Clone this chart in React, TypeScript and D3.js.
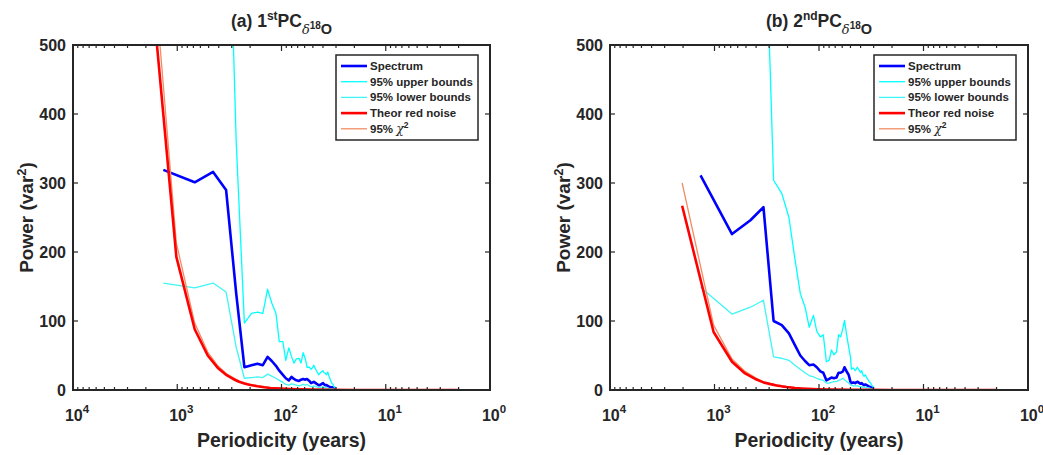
import React from 'react';
import * as d3 from 'd3';

// periods (years) of the spectral estimates, k = 1..45
const specPeriods = [1360, 680, 453, 340, 272, 227, 194, 170, 151, 136, 124, 113, 105, 97, 91, 85, 80, 76, 72, 68, 65, 62, 59, 57, 54, 52, 50, 49, 47, 45, 44, 43, 41, 40, 39, 38, 37, 36, 35, 34, 33, 32, 31.6, 30.9, 30.2];

// panel (a) 1st PC
const spectrumA = [319, 301, 316, 290, 140, 33, 36, 38, 36, 48, 42, 35, 28, 22, 17, 14, 19, 16, 14, 13, 15, 16, 15, 16, 13, 10, 11, 12, 10, 8, 7, 7, 9, 10, 8, 7, 7, 6, 5, 4, 4, 4, 3, 3, 2];
const upperA = [950, 900, 950, 870, 360, 97, 111, 113, 111, 146, 126, 111, 70, 70, 43, 61, 48, 39, 45, 46, 39, 54, 45, 33, 33, 30, 33, 36, 30, 25, 22, 24, 27, 28, 25, 24, 22, 26, 20, 15, 10, 8, 5, 4, 3];
const lowerA = [155, 148, 155, 142, 62, 17, 18, 19, 18, 23, 20, 17, 14, 11, 8, 7, 9, 8, 7, 6, 7, 8, 7, 8, 6, 5, 5, 6, 5, 4, 3, 3, 4, 5, 4, 3, 3, 3, 2, 2, 2, 2, 1, 1, 1];

// panel (b) 2nd PC
const spectrumB = [311, 226, 246, 265, 100, 94, 82, 65, 50, 42, 36, 37, 33, 27, 25, 14, 16, 18, 17, 18, 25, 25, 27, 33, 26, 22, 12, 10, 11, 10, 11, 12, 10, 9, 10, 8, 7, 8, 7, 6, 5, 4, 4, 3, 2];
const upperB = [930, 680, 740, 780, 304, 285, 250, 190, 140, 120, 91, 108, 85, 77, 80, 41, 43, 58, 51, 55, 80, 77, 90, 101, 77, 62, 48, 30, 32, 28, 30, 33, 28, 25, 28, 22, 20, 22, 18, 15, 12, 10, 8, 6, 4];
const lowerB = [149, 110, 120, 130, 48, 46, 43, 36, 30, 25, 21, 19, 17, 15, 14, 10, 10, 11, 12, 12, 14, 15, 17, 15, 12, 10, 8, 7, 6, 6, 6, 6, 5, 5, 5, 4, 4, 4, 3, 3, 3, 2, 2, 1, 1];

// theoretical red noise and 95% chi2 curve
const redPeriods = [2040, 1020, 680, 510, 408, 340, 291, 255, 227, 204, 170, 146, 128, 102, 82, 68, 51, 34, 20, 10, 4.1, 2];
const redA = [690, 193, 88, 50, 32, 22, 16, 12, 9.5, 7.7, 5.4, 4.0, 3.0, 2.0, 1.3, 0.9, 0.5, 0.25, 0.1, 0.03, 0.01, 0.005];
const chiA = [763, 213, 97, 55, 35, 24, 18, 13, 10.5, 8.5, 6, 4.4, 3.3, 2.2, 1.4, 1.0, 0.55, 0.28, 0.11, 0.03, 0.01, 0.005];
const redB = [267, 84, 41, 24, 16, 11, 8.5, 6.6, 5.3, 4.3, 3.0, 2.2, 1.7, 1.1, 0.7, 0.5, 0.3, 0.15, 0.06, 0.02, 0.005, 0.003];
const chiB = [300, 94, 45, 27, 18, 12, 9.4, 7.3, 5.8, 4.7, 3.3, 2.4, 1.9, 1.2, 0.8, 0.55, 0.33, 0.17, 0.07, 0.02, 0.006, 0.003];

const yTicks = [0, 100, 200, 300, 400, 500];
const xTickExps = [4, 3, 2, 1, 0];
const legendLabels = ['Spectrum', '95% upper bounds', '95% lower bounds', 'Theor red noise', '95% '];

const INK = '#262626';
const FONT = '"Liberation Sans", Arial, Helvetica, sans-serif';

const styles = [
  { color: '#0000ff', width: 2.6 },
  { color: '#00ffff', width: 1.3 },
  { color: '#3ff5f5', width: 1.3 },
  { color: '#ff0000', width: 2.6 },
  { color: '#f28c64', width: 1.3 },
];

type PanelProps = {
  id: string;
  left: number;
  right: number;
  top: number;
  bottom: number;
  letter: string;
  ord: string;
  ordSup: string;
  spectrum: number[];
  upper: number[];
  lower: number[];
  red: number[];
  chi: number[];
  legendX: number;
};

function Panel(p: PanelProps) {
  const x = d3.scaleLog().domain([1e4, 1]).range([p.left, p.right]);
  const y = d3.scaleLinear().domain([0, 500]).range([p.bottom, p.top]);
  const line = d3
    .line<[number, number]>()
    .x((d) => x(d[0]))
    .y((d) => y(d[1]));
  const zip = (ps: number[], vs: number[]) => ps.map((v, i) => [v, vs[i]] as [number, number]);

  const series = [
    zip(specPeriods, p.spectrum),
    zip(specPeriods, p.upper),
    zip(specPeriods, p.lower),
    zip(redPeriods, p.red),
    zip(redPeriods, p.chi),
  ];
  const drawOrder = [0, 1, 2, 4, 3];

  const minor: number[] = [];
  for (let e = 0; e < 4; e++) for (let m = 2; m <= 9; m++) minor.push(m * Math.pow(10, e));

  const cx = (p.left + p.right) / 2;
  const cy = (p.top + p.bottom) / 2;
  const lx = p.legendX;
  const lw = 142;

  return (
    <g fontFamily={FONT} fontWeight="bold" fill={INK}>
      <defs>
        <clipPath id={p.id}>
          <rect x={p.left} y={p.top} width={p.right - p.left} height={p.bottom - p.top} />
        </clipPath>
      </defs>

      <g clipPath={`url(#${p.id})`}>
        {drawOrder.map((i) => (
          <path key={i} d={line(series[i]) || ''} fill="none" stroke={styles[i].color} strokeWidth={styles[i].width} strokeLinejoin="round" />
        ))}
      </g>

      {/* ticks */}
      <g stroke={INK} strokeWidth={1.2}>
        {minor.map((v) => (
          <g key={v}>
            <line x1={x(v)} x2={x(v)} y1={p.bottom} y2={p.bottom - 3} />
            <line x1={x(v)} x2={x(v)} y1={p.top} y2={p.top + 3} />
          </g>
        ))}
        {xTickExps.map((e) => (
          <g key={e}>
            <line x1={x(Math.pow(10, e))} x2={x(Math.pow(10, e))} y1={p.bottom} y2={p.bottom - 6} />
            <line x1={x(Math.pow(10, e))} x2={x(Math.pow(10, e))} y1={p.top} y2={p.top + 6} />
          </g>
        ))}
        {yTicks.map((v) => (
          <g key={v}>
            <line x1={p.left} x2={p.left + 5} y1={y(v)} y2={y(v)} />
            <line x1={p.right} x2={p.right - 5} y1={y(v)} y2={y(v)} />
          </g>
        ))}
      </g>
      <rect x={p.left} y={p.top} width={p.right - p.left} height={p.bottom - p.top} fill="none" stroke={INK} strokeWidth={2} />

      {/* tick labels */}
      {yTicks.map((v) => (
        <text key={v} x={p.left - 7} y={y(v) + 5.5} textAnchor="end" fontSize={16}>
          {v}
        </text>
      ))}
      {xTickExps.map((e) => (
        <text key={e} x={x(Math.pow(10, e)) + 4} y={p.bottom + 31} textAnchor="middle" fontSize={16}>
          10<tspan dy={-8} fontSize={11.5}>{e}</tspan>
        </text>
      ))}

      {/* labels */}
      <text x={cx} y={p.bottom + 57} textAnchor="middle" fontSize={19.5}>
        Periodicity (years)
      </text>
      <text transform={`translate(${p.left - 40},${cy}) rotate(-90)`} textAnchor="middle" fontSize={19}>
        Power (var<tspan dy={-7} fontSize={13}>2</tspan><tspan dy={7}>)</tspan>
      </text>
      <text x={cx} y={27} textAnchor="middle" fontSize={17.5}>
        {p.letter} {p.ord}
        <tspan dy={-7} fontSize={12}>{p.ordSup}</tspan>
        <tspan dy={7}>PC</tspan>
        <tspan dy={7} fontSize={13} fontStyle="italic" fontFamily='"DejaVu Serif", serif' fontWeight="normal">δ</tspan>
        <tspan dy={-5} fontSize={10}>18</tspan>
        <tspan dy={5} fontSize={14.5}>O</tspan>
      </text>

      {/* legend */}
      <rect x={lx} y={55} width={lw} height={85} fill="#ffffff" stroke={INK} strokeWidth={1.5} />
      {legendLabels.map((lab, i) => {
        const ly = 66 + i * 15.7;
        return (
          <g key={lab}>
            <line x1={lx + 5} x2={lx + 31} y1={ly} y2={ly} stroke={styles[i].color} strokeWidth={styles[i].width} />
            <text x={lx + 34} y={ly + 4} fontSize={11.5}>
              {lab}
              {i === 4 && (
                <>
                  <tspan fontStyle="italic" fontFamily='"DejaVu Serif", serif' fontWeight="normal" fontSize={12.5}>χ</tspan>
                  <tspan dy={-5} fontSize={8.5}>2</tspan>
                </>
              )}
            </text>
          </g>
        );
      })}
    </g>
  );
}

export default function App() {
  return (
    <svg width={1043} height={455} style={{ position: 'absolute', left: 0, top: 0, background: '#fff' }}>
      <rect width={1043} height={455} fill="#ffffff" />
      <Panel id="clipA" left={73} right={490} top={45} bottom={390} letter="(a)" ord="1" ordSup="st"
        spectrum={spectrumA} upper={upperA} lower={lowerA} red={redA} chi={chiA} legendX={336} />
      <Panel id="clipB" left={610} right={1028} top={45} bottom={390} letter="(b)" ord="2" ordSup="nd"
        spectrum={spectrumB} upper={upperB} lower={lowerB} red={redB} chi={chiB} legendX={874} />
    </svg>
  );
}
